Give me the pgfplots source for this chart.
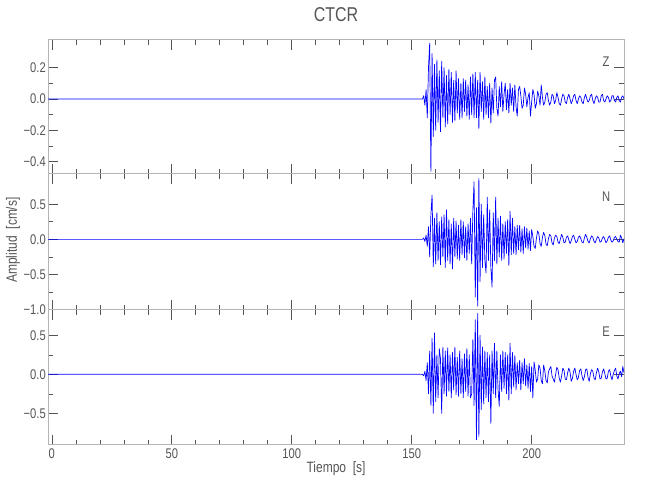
\documentclass[border=0pt]{standalone}
\usepackage{fontspec}
\setmainfont{Liberation Sans}[FakeStretch=0.8]
\usepackage{pgfplots}
\pgfplotsset{compat=1.18}
\usepackage{pgfplotstable}
\definecolor{txt}{HTML}{555555}
\definecolor{axl}{HTML}{B4B4B4}
\definecolor{trace}{HTML}{0000FF}

\pgfplotstableread{
t z n e
-1.6 0 0 0
154.5 0 0 0
155.0 0.02 0.02 -0.02
155.5 -0.04 -0.03 0.04
156.0 0.06 0.06 -0.08
156.5 -0.12 -0.10 0.15
157.0 0.20 0.18 -0.25
157.5 0.356 -0.25 0.30
158.0 -0.464 0.35 -0.40
158.5 0.29 0.63 0.46
159.0 -0.24 -0.39 -0.50
159.5 0.22 0.30 0.53
160.0 -0.20 -0.35 -0.35
160.5 0.25 0.38 0.25
161.0 -0.15 -0.30 -0.30
161.5 0.18 0.25 0.33
162.0 -0.21 -0.36 0.20
162.5 0.24 0.32 -0.50
163.0 -0.12 -0.25 0.35
163.5 0.20 0.35 -0.25
164.0 -0.18 -0.40 0.30
164.5 0.15 0.42 -0.28
165.0 -0.16 -0.30 0.34
165.5 0.19 0.28 -0.22
166.0 -0.10 -0.35 0.25
166.5 0.17 0.22 -0.30
167.0 -0.15 -0.42 0.28
167.5 0.12 0.30 -0.20
168.0 -0.14 -0.25 0.35
168.5 0.18 0.26 -0.26
169.0 -0.09 -0.28 0.22
169.5 0.13 0.20 -0.28
170.0 -0.13 -0.30 0.30
170.5 0.10 0.28 -0.25
171.0 -0.12 -0.22 0.20
171.5 0.13 0.25 -0.30
172.0 -0.08 -0.26 0.26
172.5 0.12 0.18 -0.22
173.0 -0.11 -0.30 0.33
173.5 0.09 0.22 -0.28
174.0 -0.13 -0.20 0.25
174.5 0.14 0.30 -0.30
175.0 -0.10 -0.35 -0.25
175.5 0.16 0.40 0.45
176.0 -0.12 0.82 -0.40
176.5 0.17 -0.82 0.70
177.0 -0.12 0.45 -0.84
177.5 0.12 -0.95 0.78
178.0 -0.19 0.87 -0.80
178.5 0.17 -0.60 0.50
179.0 -0.08 0.50 -0.45
179.5 0.11 -0.40 0.35
180.0 -0.13 0.35 -0.38
180.5 0.14 -0.30 0.30
181.0 -0.10 -0.48 -0.30
181.5 0.08 0.60 0.28
182.0 -0.12 -0.30 -0.35
182.5 0.10 0.42 0.25
183.0 -0.155 -0.40 -0.63
183.5 0.07 -0.68 0.30
184.0 -0.09 0.38 -0.25
184.5 0.12 -0.30 0.40
185.0 0.14 0.60 -0.30
185.5 -0.06 -0.35 0.30
186.0 -0.11 0.30 -0.20
186.5 0.08 -0.25 -0.41
187.0 -0.05 0.33 0.25
187.5 0.11 -0.30 -0.22
188.0 -0.08 0.22 0.30
188.5 0.03 -0.28 -0.18
189.0 0.10 0.25 0.28
189.5 -0.07 -0.20 -0.25
190.0 0.06 0.28 0.25
190.5 -0.09 -0.37 -0.33
191.0 0.10 0.40 0.40
191.5 -0.04 -0.22 -0.25
192.0 0.07 0.30 0.28
192.5 -0.08 -0.20 -0.16
193.0 0.09 0.18 0.24
193.5 -0.05 -0.22 -0.20
194.0 -0.11 0.20 0.15
194.5 0.06 -0.15 -0.12
195.0 0.08 0.20 0.18
195.5 0.02 -0.18 -0.20
196.0 -0.06 0.15 0.15
196.5 -0.04 -0.20 -0.12
197.0 0.07 0.18 0.20
197.5 0.03 -0.12 -0.15
198.0 -0.05 0.16 0.12
198.5 0.01 -0.14 -0.18
199.0 0.04 0.12 0.14
199.5 -0.11 -0.16 -0.22
200.0 -0.02 0.14 0.10
200.5 0.06 0.04 -0.30
201.0 0.03 -0.10 0.16
201.5 -0.06 -0.13 0.05
202.0 -0.03 0.02 -0.10
202.5 0.05 0.12 -0.06
203.0 0.02 0.08 0.12
203.5 -0.04 -0.06 0.08
204.0 0.09 -0.10 -0.08
204.5 0.01 0.03 -0.12
205.0 -0.04 0.10 0.12
205.5 -0.02 0.05 0.04
206.0 0.03 -0.07 -0.08
206.5 0.04 -0.09 -0.11
207.0 -0.01 0.01 0.03
207.5 -0.04 0.07 0.07
208.0 -0.02 0.05 0.10
208.5 0.03 -0.05 -0.02
209.0 0.02 -0.08 -0.06
209.5 -0.03 0.02 -0.10
210.0 -0.01 0.06 0.00
210.5 0.04 0.04 0.09
211.0 0.01 -0.04 0.06
211.5 -0.03 -0.06 -0.05
212.0 -0.04 0.01 -0.10
212.5 0.00 0.07 -0.02
213.0 0.03 0.03 0.08
213.5 0.02 -0.05 0.05
214.0 -0.02 -0.04 -0.06
214.5 -0.03 0.03 -0.07
215.0 0.01 0.05 0.02
215.5 0.03 -0.01 0.08
216.0 0.00 -0.06 0.03
216.5 -0.03 -0.02 -0.09
217.0 -0.01 0.04 -0.05
217.5 0.02 0.06 0.04
218.0 0.03 0.00 0.08
218.5 -0.01 -0.05 0.00
219.0 -0.03 -0.03 -0.07
219.5 0.00 0.03 -0.04
220.0 0.02 0.05 0.05
220.5 0.01 0.01 0.07
221.0 -0.02 -0.04 -0.02
221.5 -0.03 -0.05 -0.08
222.0 0.01 0.02 -0.03
222.5 0.03 0.07 0.06
223.0 0.00 0.03 0.07
223.5 -0.02 -0.03 -0.04
224.0 -0.01 -0.05 -0.09
224.5 0.02 0.01 0.01
225.0 0.03 0.05 0.06
225.5 -0.01 0.03 0.04
226.0 -0.03 -0.03 -0.05
226.5 0.00 -0.05 -0.07
227.0 0.02 0.00 0.02
227.5 0.01 0.04 0.08
228.0 -0.02 0.02 0.03
228.5 -0.02 -0.04 -0.06
229.0 0.02 -0.03 -0.05
229.5 0.03 0.02 0.03
230.0 -0.01 0.04 0.07
230.5 -0.02 0.00 0.01
231.0 0.00 -0.05 -0.06
231.5 0.02 -0.02 -0.05
232.0 0.01 0.03 0.04
232.5 -0.02 0.05 0.06
233.0 -0.01 -0.01 -0.02
233.5 0.02 -0.04 -0.07
234.0 0.02 -0.02 0.00
234.5 -0.01 0.03 0.05
235.0 -0.02 0.04 0.08
235.5 0.01 0.00 -0.02
236.0 0.02 -0.03 -0.06
236.5 -0.01 -0.04 0.01
237.0 -0.02 0.06 0.04
237.5 0.01 0.02 -0.03
238.0 0.02 -0.05 0.10
238.5 0.00 0.01 0.02
}\seis

\pgfplotsset{
  panel/.style={
    scale only axis,
    width=576pt,
    xmin=-1.6, xmax=238.5,
    axis line style={draw=axl, line width=1pt},
    tick style={draw=txt, line width=0.6pt},
    major tick length=10pt,
    minor tick length=5pt,
    tick align=inside,
    xtick={0,50,100,150,200},
    minor x tick num=4,
    xticklabels={},
    xtick pos=both, ytick pos=both,
    ticklabel style={font=\fontsize{14}{14}\selectfont, text=txt},
    yticklabel style={inner xsep=2pt},
    clip=true,
  },
  trc/.style={draw=trace, line width=0.7pt, line join=round},
}

\begin{document}
\begin{tikzpicture}
\path[use as bounding box] (0pt,0pt) rectangle (650pt,500pt);

\begin{axis}[panel, at={(48pt,326pt)}, anchor=south west, height=134pt,
  ymin=-0.48, ymax=0.377,
  ytick={-0.4,-0.2,0,0.2}, yticklabels={−0.4,−0.2,0.0,0.2}, minor y tick num=1]
\addplot[trc] table[x=t,y=z] {\seis};
\node[text=txt, font=\fontsize{14}{14}\selectfont] at (rel axis cs:0.969,0.836) {Z};
\end{axis}

\begin{axis}[panel, at={(48pt,190pt)}, anchor=south west, height=136pt,
  ymin=-1.005, ymax=0.93,
  ytick={-1,-0.5,0,0.5}, yticklabels={−1.0,−0.5,0.0,0.5}, minor y tick num=1]
\addplot[trc] table[x=t,y=n] {\seis};
\node[text=txt, font=\fontsize{14}{14}\selectfont] at (rel axis cs:0.969,0.83) {N};
\end{axis}

\begin{axis}[panel, at={(48pt,55pt)}, anchor=south west, height=135pt,
  ymin=-0.906, ymax=0.825,
  ytick={-0.5,0,0.5}, yticklabels={−0.5,0.0,0.5}, minor y tick num=1,
  xticklabels={0,50,100,150,200}]
\addplot[trc] table[x=t,y=e] {\seis};
\node[text=txt, font=\fontsize{14}{14}\selectfont] at (rel axis cs:0.969,0.837) {E};
\end{axis}

\node[text=txt, font=\fontsize{20}{20}\selectfont] at (336pt,485pt) {CTCR};
\node[text=txt, font=\fontsize{15}{15}\selectfont] at (336pt,31pt) {Tiempo\ \ [s]};
\node[text=txt, font=\fontsize{15}{15}\selectfont, rotate=90] at (13pt,260pt) {Amplitud\ \ [cm/s]};
\end{tikzpicture}
\end{document}
